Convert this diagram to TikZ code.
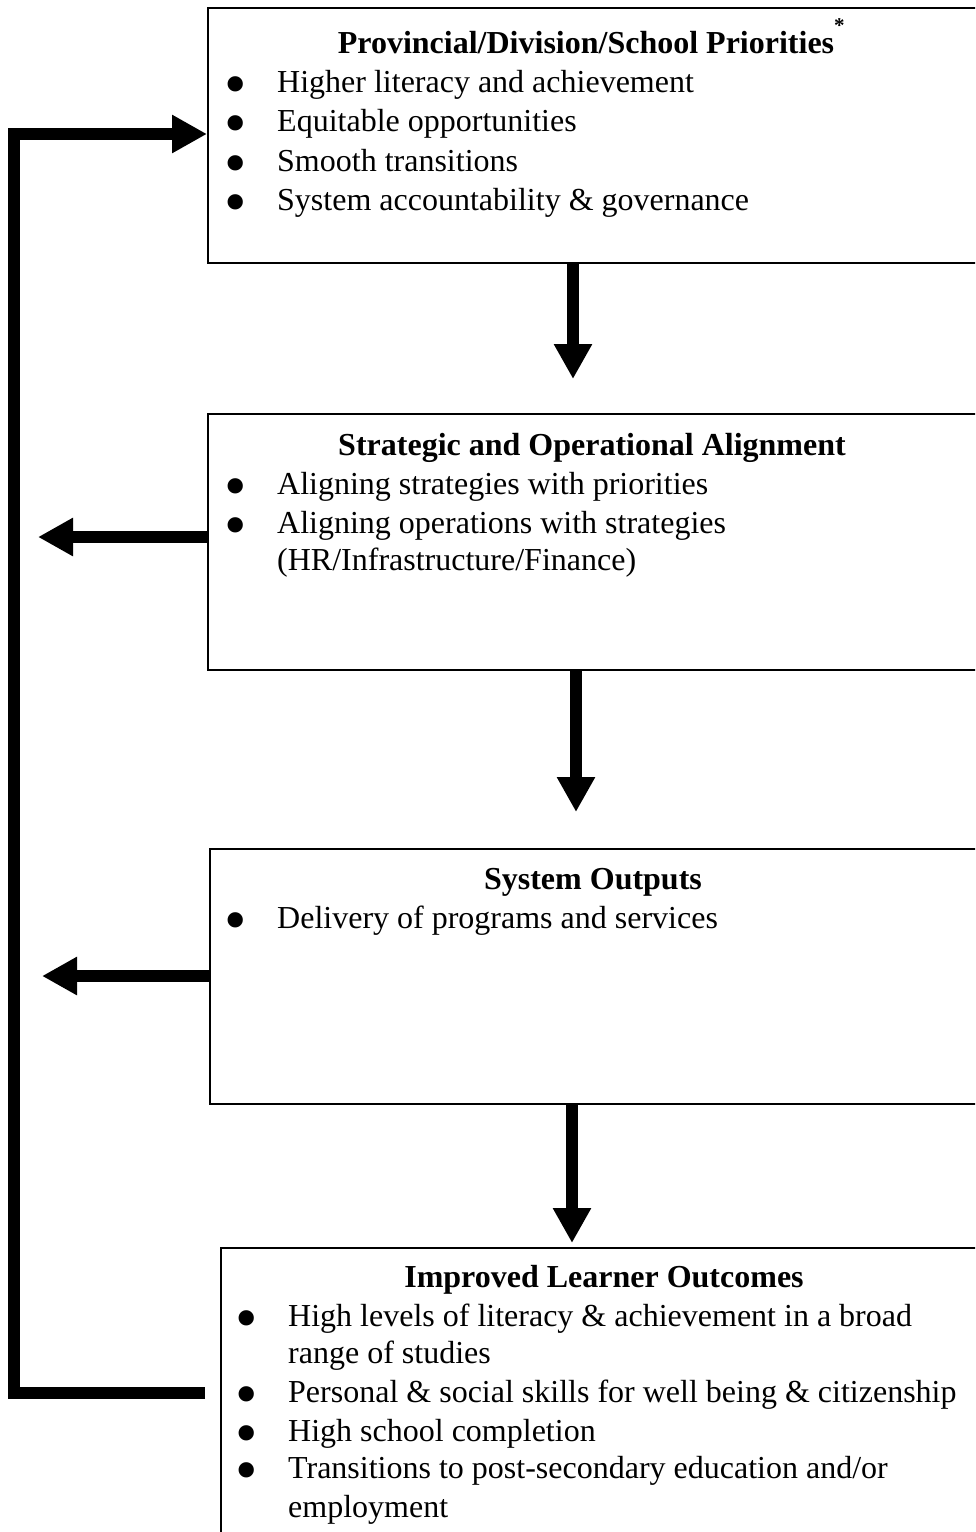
\documentclass[tikz,border=0pt]{standalone}
\usepackage{fontspec}
\usepackage{graphicx}
\setmainfont{Liberation Serif}
\usetikzlibrary{arrows.meta}
\tikzset{
  box/.style={draw, line width=2pt, anchor=north west, inner sep=0pt},
  fat/.style={line width=12pt, line join=miter, -{Triangle[length=35pt,width=36pt]}},
  txt/.style={anchor=base west, inner sep=0pt, font=\fontsize{32}{39}\selectfont},
  ttl/.style={anchor=base, inner sep=0pt, font=\bfseries\fontsize{32}{39}\selectfont},
}
\newcommand{\bulmark}{\llap{\raisebox{-13pt}[0pt][0pt]{\scalebox{2}{•}}\hskip 30pt}}
\begin{document}
\begin{tikzpicture}[x=1pt,y=-1pt]
\useasboundingbox (0,0) rectangle (975,1532);
\clip (0,0) rectangle (975,1532);
% boxes
\node[box, minimum width=800pt, minimum height=255pt] (b1) at (207,7) {};
\node[box, minimum width=800pt, minimum height=256pt] (b2) at (207,413) {};
\node[box, minimum width=800pt, minimum height=255pt] (b3) at (209,848) {};
\node[box, minimum width=800pt, minimum height=400pt] (b4) at (220,1247) {};
% box 1
\node[ttl] (t1) at (586,53) {Provincial/Division/School Priorities\rlap{\raisebox{21pt}{\fontsize{21}{21}\selectfont *}}};
\node[txt] (l11) at (277,92) {\bulmark Higher literacy and achievement};
\node[txt] (l12) at (277,131) {\bulmark Equitable opportunities};
\node[txt] (l13) at (277,171) {\bulmark Smooth transitions};
\node[txt] (l14) at (277,210) {\bulmark System accountability \& governance};
% box 2
\node[ttl] (t2) at (592,455) {Strategic and Operational Alignment};
\node[txt] (l21) at (277,494) {\bulmark Aligning strategies with priorities};
\node[txt] (l22) at (277,533) {\bulmark Aligning operations with strategies};
\node[txt] (l23) at (277,570) {(HR/Infrastructure/Finance)};
% box 3
\node[ttl] (t3) at (593,889) {System Outputs};
\node[txt] (l31) at (277,928) {\bulmark Delivery of programs and services};
% box 4
\node[ttl] (t4) at (604,1287) {Improved Learner Outcomes};
\node[txt] (l41) at (288,1326) {\bulmark High levels of literacy \& achievement in a broad};
\node[txt] (l42) at (288,1363) {range of studies};
\node[txt] (l43) at (288,1402) {\bulmark Personal \& social skills for well being \& citizenship};
\node[txt] (l44) at (288,1441) {\bulmark High school completion};
\node[txt] (l45) at (288,1478) {\bulmark Transitions to post-secondary education and/or};
\node[txt] (l46) at (288,1517) {employment};
% free ends
\coordinate (d1) at (573,379);
\coordinate (d2) at (576,812);
\coordinate (d3) at (572,1243);
\coordinate (e2) at (38,537);
\coordinate (e3) at (42,976);
\coordinate (fs) at (205,1393);
\coordinate (fa) at (14,1393);
\coordinate (fb) at (14,134);
% connectors
\draw[fat] (b1.south -| d1) -- (d1);
\draw[fat] (b2.south -| d2) -- (d2);
\draw[fat] (b3.south -| d3) -- (d3);
\draw[fat] (b2.west |- e2) -- (e2);
\draw[fat] (b3.west |- e3) -- (e3);
\draw[fat] (fs) -- (fa) -- (fb) -- (b1.west |- fb);
\end{tikzpicture}
\end{document}
